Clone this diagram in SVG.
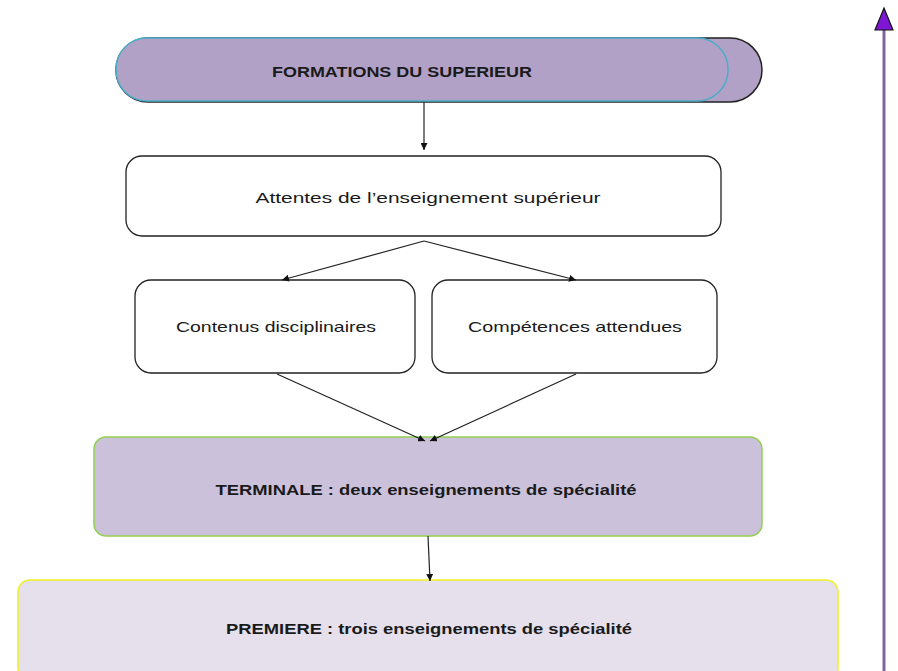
<svg xmlns="http://www.w3.org/2000/svg" width="898" height="671" viewBox="0 0 898 671">
<defs>
<style>
.t{font-family:"Liberation Sans",Arial,sans-serif;font-size:15px;fill:#1a1a1a;text-anchor:middle}
.b{font-weight:bold}
.w{fill:#fff;stroke:#222;stroke-width:1.3}
.c{stroke:#222;stroke-width:1.2;fill:none}
</style>
<marker id="ah" viewBox="0 0 10 10" refX="10" refY="5" markerWidth="7" markerHeight="7" orient="auto" markerUnits="userSpaceOnUse">
<path d="M0,0 L10,5 L0,10 z" fill="#111"/>
</marker>
</defs>
<rect width="898" height="671" fill="#fff"/>
<g id="formations">
<rect x="116" y="38" width="646" height="64" rx="32" ry="32" fill="#b2a1c7" stroke="#222" stroke-width="1.5"/>
<rect x="116" y="38" width="612" height="63" rx="31" ry="31" fill="#b2a1c7" stroke="#4bacc6" stroke-width="1.5"/>
<text class="t b" x="402" y="77" textLength="260" lengthAdjust="spacingAndGlyphs">FORMATIONS DU SUPERIEUR</text>
</g>
<g id="attentes">
<rect class="w" x="126" y="156" width="595" height="80" rx="16"/>
<text class="t" x="428" y="203" textLength="345" lengthAdjust="spacingAndGlyphs">Attentes de l’enseignement supérieur</text>
</g>
<g id="contenus">
<rect class="w" x="135" y="280" width="280" height="93" rx="16"/>
<text class="t" x="276" y="332" textLength="200" lengthAdjust="spacingAndGlyphs">Contenus disciplinaires</text>
</g>
<g id="competences">
<rect class="w" x="432" y="280" width="285" height="93" rx="16"/>
<text class="t" x="575" y="332" textLength="214" lengthAdjust="spacingAndGlyphs">Compétences attendues</text>
</g>
<g id="terminale">
<rect x="94" y="437" width="668" height="99" rx="12" fill="#ccc1da" stroke="#92d050" stroke-width="1.5"/>
<text class="t b" x="426" y="495" textLength="421" lengthAdjust="spacingAndGlyphs">TERMINALE : deux enseignements de spécialité</text>
</g>
<g id="premiere">
<rect x="18" y="580" width="820" height="100" rx="12" fill="#e5e0ec" stroke="#f0f020" stroke-width="1.5"/>
<text class="t b" x="429" y="634" textLength="406" lengthAdjust="spacingAndGlyphs">PREMIERE : trois enseignements de spécialité</text>
</g>
<g id="connectors">
<line class="c" x1="424" y1="102" x2="424" y2="150" marker-end="url(#ah)"/>
<line class="c" x1="424" y1="241" x2="282" y2="280" marker-end="url(#ah)"/>
<line class="c" x1="424" y1="241" x2="576" y2="280" marker-end="url(#ah)"/>
<line class="c" x1="277" y1="374" x2="425" y2="441" marker-end="url(#ah)"/>
<line class="c" x1="576" y1="374" x2="430" y2="441" marker-end="url(#ah)"/>
<line class="c" x1="428" y1="536" x2="430" y2="581" marker-end="url(#ah)"/>
<line x1="884" y1="671" x2="884" y2="28" stroke="#8064a2" stroke-width="3"/>
<path d="M884,8 L893,30 L875,30 z" fill="#7f16d4" stroke="#111" stroke-width="1.2"/>
</g>
</svg>
